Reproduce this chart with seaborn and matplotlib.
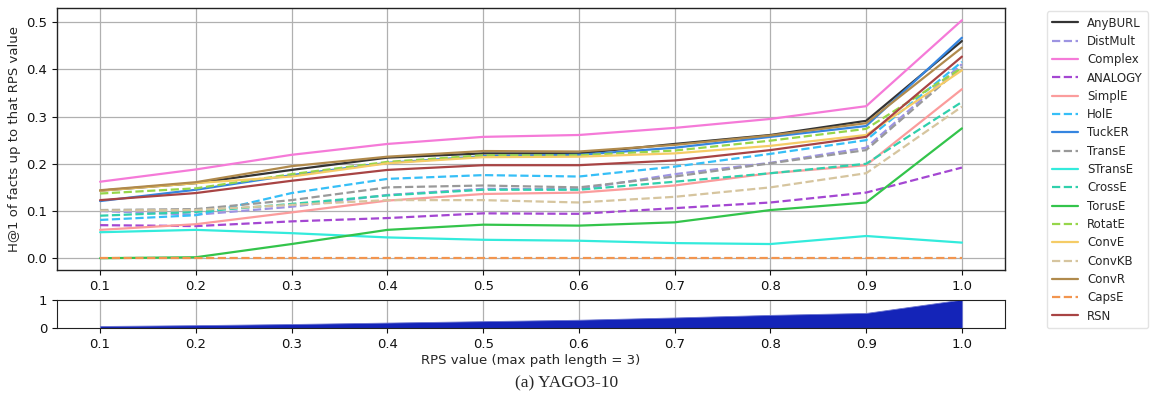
import matplotlib
matplotlib.use("Agg")
import matplotlib.pyplot as plt
import numpy as np
import seaborn as sns

# RPS thresholds on the x axis
rps = [0.1, 0.2, 0.3, 0.4, 0.5, 0.6, 0.7, 0.8, 0.9, 1.0]

# H@1 per model
anyburl  = [0.143, 0.159, 0.187, 0.213, 0.222, 0.222, 0.242, 0.261, 0.291, 0.460]
distmult = [0.100, 0.092, 0.109, 0.134, 0.147, 0.146, 0.178, 0.202, 0.234, 0.411]
complex_ = [0.162, 0.188, 0.219, 0.242, 0.257, 0.261, 0.276, 0.295, 0.322, 0.504]
analogy  = [0.070, 0.068, 0.078, 0.085, 0.095, 0.094, 0.106, 0.118, 0.139, 0.192]
simple   = [0.060, 0.072, 0.097, 0.122, 0.136, 0.139, 0.154, 0.180, 0.197, 0.358]
hole     = [0.081, 0.091, 0.138, 0.168, 0.176, 0.173, 0.194, 0.221, 0.250, 0.416]
tucker   = [0.121, 0.145, 0.176, 0.202, 0.216, 0.219, 0.234, 0.257, 0.280, 0.467]
transe   = [0.102, 0.104, 0.123, 0.150, 0.154, 0.150, 0.173, 0.201, 0.229, 0.405]
stranse  = [0.055, 0.060, 0.053, 0.044, 0.039, 0.037, 0.032, 0.030, 0.047, 0.033]
crosse   = [0.090, 0.098, 0.115, 0.133, 0.145, 0.145, 0.162, 0.180, 0.200, 0.331]
toruse   = [0.000, 0.002, 0.030, 0.060, 0.071, 0.069, 0.076, 0.102, 0.118, 0.275]
rotate   = [0.137, 0.148, 0.178, 0.204, 0.218, 0.218, 0.228, 0.249, 0.274, 0.403]
conve    = [0.143, 0.159, 0.173, 0.201, 0.214, 0.215, 0.222, 0.238, 0.261, 0.398]
convkb   = [0.101, 0.102, 0.113, 0.123, 0.123, 0.118, 0.130, 0.150, 0.180, 0.321]
convr    = [0.144, 0.161, 0.195, 0.215, 0.227, 0.226, 0.240, 0.260, 0.286, 0.446]
capse    = [0.000, 0.000, 0.000, 0.000, 0.000, 0.000, 0.000, 0.000, 0.000, 0.000]
rsn      = [0.123, 0.138, 0.164, 0.187, 0.197, 0.197, 0.207, 0.229, 0.257, 0.427]

# fraction of test facts up to each RPS value
fact_share = [0.07, 0.10, 0.14, 0.19, 0.24, 0.29, 0.37, 0.46, 0.53, 1.0]

models = ["AnyBURL", "DistMult", "Complex", "ANALOGY", "SimplE", "HolE", "TuckER",
          "TransE", "STransE", "CrossE", "TorusE", "RotatE", "ConvE", "ConvKB",
          "ConvR", "CapsE", "RSN"]
series = [anyburl, distmult, complex_, analogy, simple, hole, tucker, transe,
          stranse, crosse, toruse, rotate, conve, convkb, convr, capse, rsn]
colors = ["#333333", "#9d94e2", "#f57ad8", "#a447d2", "#fb9c9c", "#36bff7",
          "#3585e0", "#999999", "#33ebdc", "#30d0ac", "#33c44b", "#96d64a",
          "#f5cc66", "#d6c59f", "#b08a4c", "#f2954f", "#a84444"]
dashed = {"DistMult", "ANALOGY", "HolE", "TransE", "CrossE", "RotatE", "ConvKB", "CapsE"}

sns.set_style("whitegrid")
plt.rcParams.update({
    "font.family": ["DejaVu Sans"],
    "axes.edgecolor": "#222222",
    "grid.color": "#b0b0b0",
    "grid.linewidth": 0.9,
    "xtick.bottom": True,
    "ytick.left": True,
    "xtick.major.size": 3.5,
    "ytick.major.size": 3.5,
    "xtick.color": "#111111",
    "ytick.color": "#111111",
})

fig = plt.figure(figsize=(11.52, 4.04), dpi=100)
ax = fig.add_axes([0.0495, 0.3317, 0.8229, 0.6485])
ax2 = fig.add_axes([0.0495, 0.1881, 0.8229, 0.0705])

for name, vals, col in zip(models, series, colors):
    sns.lineplot(x=rps, y=vals, ax=ax, color=col, linewidth=1.6,
                 linestyle="--" if name in dashed else "-", label=name)

ax.set_xticks(rps)
ax.set_xticklabels([f"{v:.1f}" for v in rps])
ax.set_yticks([0.0, 0.1, 0.2, 0.3, 0.4, 0.5])
ax.set_xlim(0.055, 1.045)
ax.set_ylim(-0.025, 0.53)
ax.tick_params(labelsize=9.5)
ax.set_ylabel("H@1 of facts up to that RPS value", fontsize=9.5)
ax.set_xlabel("")
for s in ax.spines.values():
    s.set_linewidth(1.0)

handles, labels = ax.get_legend_handles_labels()
ax.get_legend().remove()
fig.legend(handles, labels, loc="upper left", bbox_to_anchor=(0.9085, 0.972),
           fontsize=8.5, labelspacing=0.45, handlelength=2.2, handletextpad=0.8,
           frameon=True, edgecolor="#dddddd", borderpad=0.45, borderaxespad=0)

ax2.fill_between(rps, 0, fact_share, color="#1424b8", edgecolor="#6b74d0", linewidth=0.6)
ax2.set_xlim(0.055, 1.045)
ax2.set_ylim(0, 1)
ax2.set_yticks([0, 1])
ax2.set_xticks(rps)
ax2.set_xticklabels([f"{v:.1f}" for v in rps])
ax2.grid(axis="y", visible=False)
ax2.tick_params(labelsize=9.5)
ax2.set_xlabel("RPS value (max path length = 3)", fontsize=9.5, labelpad=2)

fig.text(0.492, 0.03, "(a) YAGO3-10", ha="center", va="bottom",
         fontsize=12.5, family=["Liberation Serif", "DejaVu Serif"])

fig.savefig("out.png", dpi=100)
